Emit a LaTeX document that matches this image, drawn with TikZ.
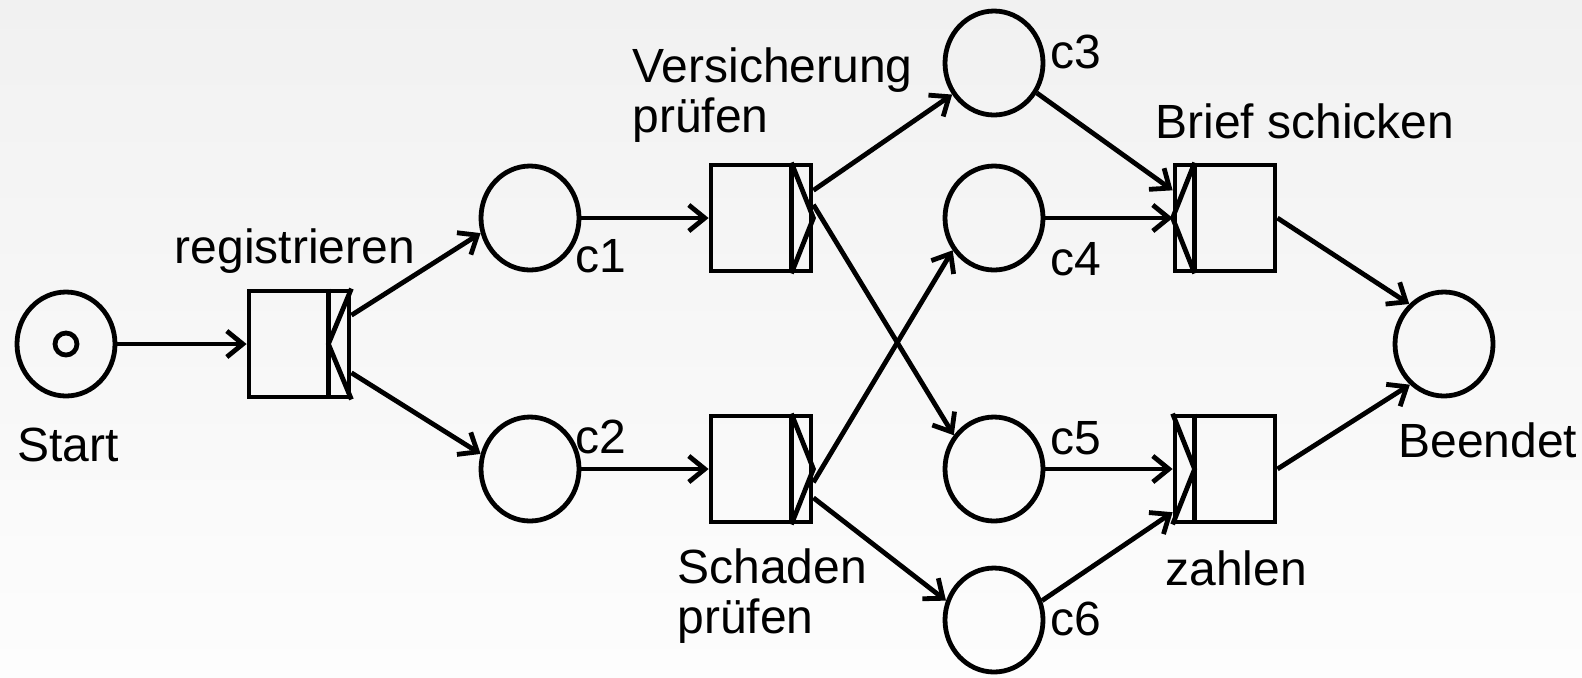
\documentclass[tikz,border=0pt]{standalone}
\usepackage{fontspec}
\setmainfont{Liberation Sans}
\usetikzlibrary{arrows.meta,shapes.geometric,calc}
\definecolor{bgtop}{RGB}{241,241,241}
\definecolor{bgbot}{RGB}{253,253,253}
\begin{document}
\begin{tikzpicture}[x=0.5pt,y=-0.5pt,
  every node/.style={font=\fontsize{24}{25}\selectfont},
  place/.style={draw,ellipse,line width=2.4pt,minimum width=49pt,minimum height=52pt,inner sep=0pt},
  token/.style={draw,circle,line width=2.4pt,minimum size=11pt,inner sep=0pt},
  trans/.style={draw,rectangle,line width=2.4pt,minimum width=50pt,minimum height=53pt,inner sep=0pt},
  deco/.style={line width=2.4pt},
  arc/.style={line width=2.4pt,-{Straight Barb[length=8pt,width=13pt]}},
  lbl/.style={inner sep=0pt,anchor=base west,align=left}]
\shade[top color=bgtop,bottom color=bgbot] (0,0) rectangle (1582,677);
\useasboundingbox (0,0) rectangle (1582,677);

% places
\node[place] (start) at (66,344) {};
\node[token] (tok) at (start) {};
\node[place] (c1) at (530,218) {};
\node[place] (c2) at (530,469) {};
\node[place] (c3) at (994,63) {};
\node[place] (c4) at (994,218) {};
\node[place] (c5) at (994,469) {};
\node[place] (c6) at (994,620) {};
\node[place] (end) at (1444,344) {};

% transitions
\node[trans] (reg) at (299,344) {};
\node[trans] (vp) at (761,218) {};
\node[trans] (sp) at (761,469) {};
\node[trans] (bs) at (1225,218) {};
\node[trans] (za) at (1225,469) {};

% split / join decorators
\draw[deco] ($(reg.north east)+(-23,0)$) -- ($(reg.south east)+(-23,0)$);
\draw[deco] (reg.north east) -- ($(reg.east)+(-23,0)$) -- (reg.south east);
\draw[deco] ($(vp.north east)+(-22,0)$) -- ($(vp.south east)+(-22,0)$);
\draw[deco] ($(vp.north east)+(-22,0)$) -- (vp.east) -- ($(vp.south east)+(-22,0)$);
\draw[deco] ($(sp.north east)+(-22,0)$) -- ($(sp.south east)+(-22,0)$);
\draw[deco] ($(sp.north east)+(-22,0)$) -- (sp.east) -- ($(sp.south east)+(-22,0)$);
\draw[deco] ($(bs.north west)+(22,0)$) -- ($(bs.south west)+(22,0)$);
\draw[deco] ($(bs.north west)+(22,0)$) -- (bs.west) -- ($(bs.south west)+(22,0)$);
\draw[deco] ($(za.north west)+(22,0)$) -- ($(za.south west)+(22,0)$);
\draw[deco] (za.north west) -- ($(za.west)+(22,0)$) -- (za.south west);

% arcs
\draw[arc] (start) -- (reg);
\draw[arc] ($(reg.north east)!0.24!(reg.south east)$) -- (c1.197);
\draw[arc] ($(reg.north east)!0.76!(reg.south east)$) -- (c2.163);
\draw[arc] (c1) -- (vp);
\draw[arc] (c2) -- (sp);
\draw[arc] ($(vp.north east)!0.25!(vp.south east)$) -- (c3.217);
\draw[arc] ($(vp.north east)!0.38!(vp.south east)$) -- (c5.140);
\draw[arc] ($(sp.north east)!0.62!(sp.south east)$) -- (c4.218);
\draw[arc] ($(sp.north east)!0.76!(sp.south east)$) -- (c6.158);
\draw[arc] (c3.-35) -- ($(bs.north west)!0.25!(bs.south west)$);
\draw[arc] (c4) -- (bs);
\draw[arc] (c5) -- (za);
\draw[arc] (c6.22) -- ($(za.north west)!0.89!(za.south west)$);
\draw[arc] (bs.east) -- (end.131);
\draw[arc] (za.east) -- (end.230);

% labels
\node[inner sep=0pt,anchor=base] (lstart) at (68,461) {Start};
\node[inner sep=0pt,anchor=base] (lreg) at (295,263) {registrieren};
\node[lbl] (lc1) at (575,272) {c1};
\node[lbl] (lc2) at (575,453) {c2};
\node[lbl] (lvp) at (632,132) {Versicherung\\prüfen};
\node[lbl] (lc3) at (1050,68) {c3};
\node[lbl] (lc4) at (1050,275) {c4};
\node[lbl] (lc5) at (1050,454) {c5};
\node[lbl] (lc6) at (1050,635) {c6};
\node[lbl] (lbs) at (1155,138) {Brief schicken};
\node[lbl] (lend) at (1398,457) {Beendet};
\node[lbl] (lsp) at (677,633) {Schaden\\prüfen};
\node[lbl] (lza) at (1165,585) {zahlen};
\end{tikzpicture}
\end{document}
